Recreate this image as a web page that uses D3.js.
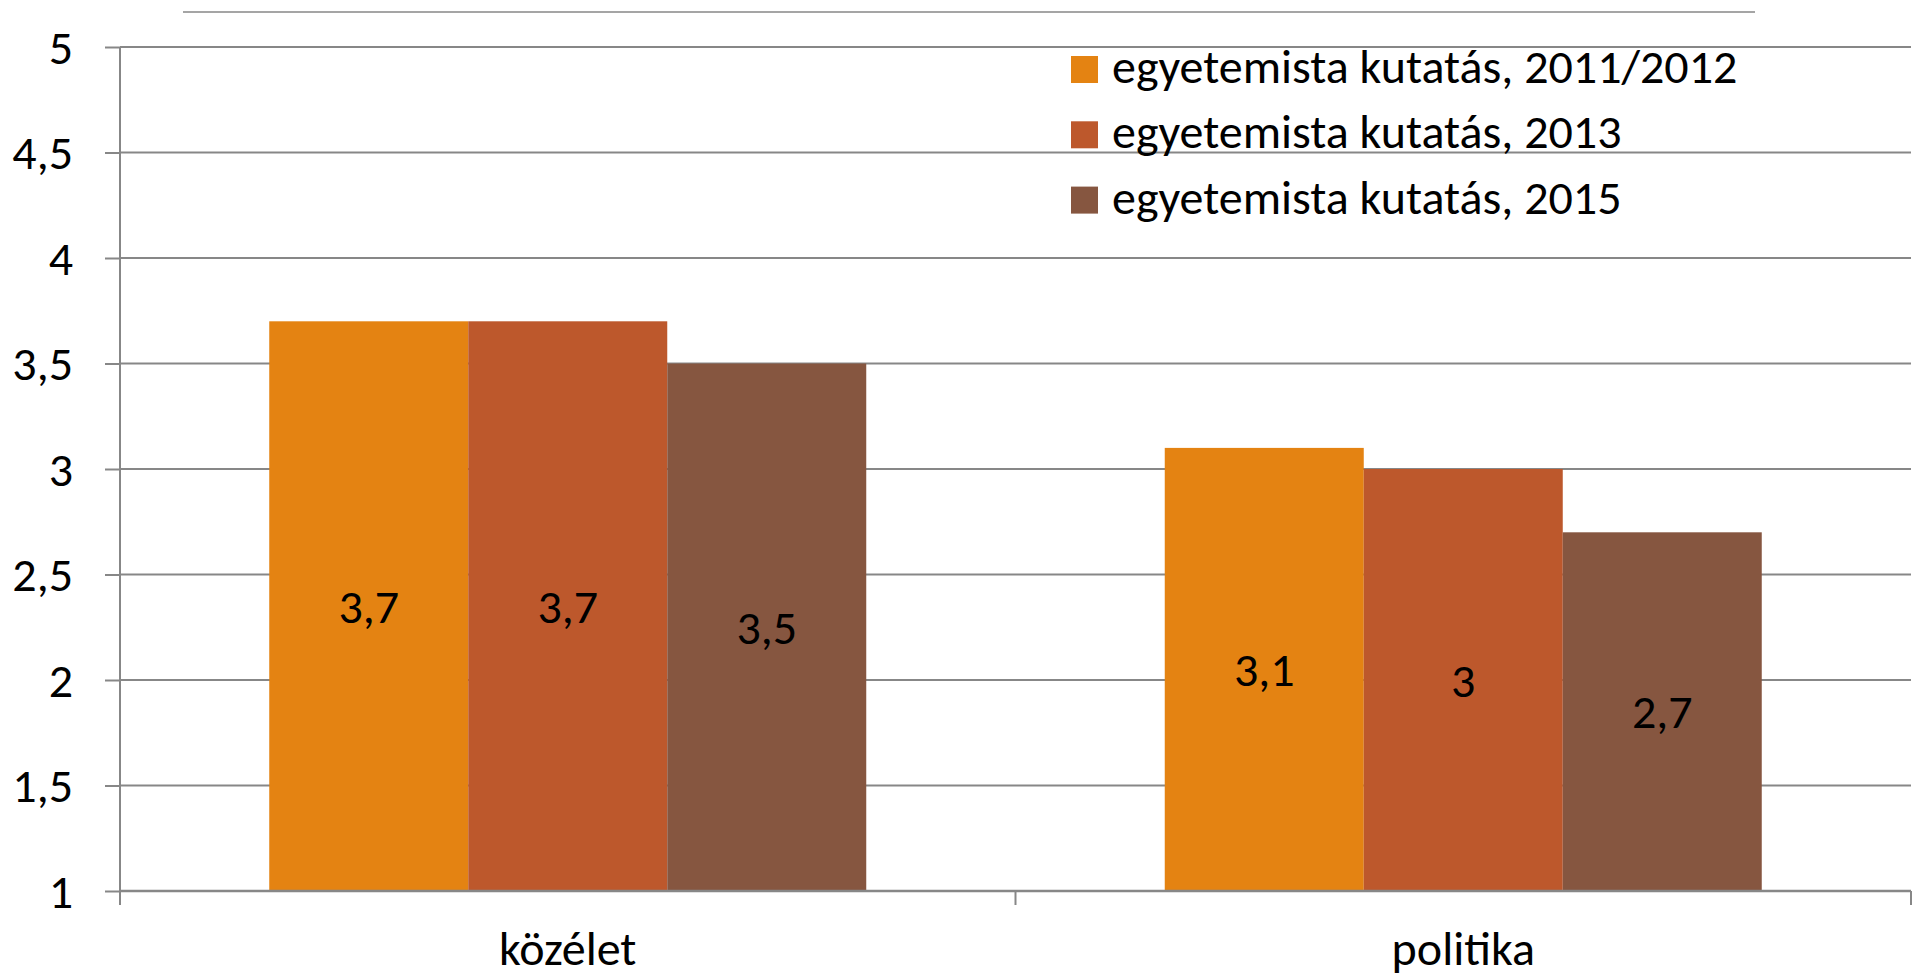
<!DOCTYPE html>
<html lang="hu">
<head>
<meta charset="UTF-8">
<script src="https://d3js.org/d3.v7.min.js"></script>
<style>
    body { margin: 0; background: #fff; }
    text { font-family: Carlito, Calibri, 'Open Sans', sans-serif; fill: #000; }
</style>
</head>
<body>
<svg id="canvas"></svg>
<script>

let categories = ['közélet', 'politika']
let seriesNames = ['egyetemista kutatás, 2011/2012', 'egyetemista kutatás, 2013', 'egyetemista kutatás, 2015']
let seriesColors = ['#E48312', '#BD582C', '#865640']
let values2011 = [3.7, 3.1]
let values2013 = [3.7, 3.0]
let values2015 = [3.5, 2.7]
let yTicks = [1, 1.5, 2, 2.5, 3, 3.5, 4, 4.5, 5]

let width = 1918
let height = 973
let plotLeft = 120
let plotRight = 1911
let plotTop = 47
let plotBottom = 891
let gray = '#878787'

let allValues = [values2011, values2013, values2015]
let rows = []
categories.forEach((c, i) => {
    seriesNames.forEach((s, j) => {
        rows.push({ cat: c, series: s, value: allValues[j][i], color: seriesColors[j] })
    })
})

let fmt = (v) => String(v).replace('.', ',')

let canvas = d3.select('#canvas')
    .attr('width', width)
    .attr('height', height)

let xScale = d3.scaleBand()
    .domain(categories)
    .range([plotLeft, plotRight])

let xInner = d3.scaleBand()
    .domain(seriesNames)
    .range([0, xScale.bandwidth()])
    .paddingOuter(0.75)

let yScale = d3.scaleLinear()
    .domain([1, 5])
    .range([plotBottom, plotTop])

// line above the plot
canvas.append('line')
    .attr('x1', 183).attr('x2', 1755)
    .attr('y1', 12).attr('y2', 12)
    .attr('stroke', gray).attr('stroke-width', 1.5)

// gridlines
canvas.append('g')
    .selectAll('line')
    .data(yTicks.filter(t => t > 1))
    .enter()
    .append('line')
    .attr('x1', plotLeft).attr('x2', plotRight)
    .attr('y1', d => yScale(d)).attr('y2', d => yScale(d))
    .attr('stroke', gray).attr('stroke-width', 2)

// bars
canvas.append('g')
    .selectAll('rect')
    .data(rows)
    .enter()
    .append('rect')
    .attr('x', d => xScale(d.cat) + xInner(d.series))
    .attr('width', xInner.bandwidth())
    .attr('y', d => yScale(d.value))
    .attr('height', d => plotBottom - yScale(d.value))
    .attr('fill', d => d.color)

// value labels
canvas.append('g')
    .selectAll('text')
    .data(rows)
    .enter()
    .append('text')
    .attr('x', d => xScale(d.cat) + xInner(d.series) + xInner.bandwidth() / 2)
    .attr('y', d => (yScale(d.value) + plotBottom) / 2)
    .attr('dy', '0.35em')
    .attr('text-anchor', 'middle')
    .style('font-size', '48px')
    .text(d => fmt(d.value))

// y axis
let yAxis = d3.axisLeft(yScale)
    .tickValues(yTicks)
    .tickSize(15)
    .tickPadding(32)
    .tickFormat(fmt)

let yG = canvas.append('g')
    .attr('transform', 'translate(' + plotLeft + ',0)')
    .call(yAxis)
yG.select('.domain').remove()
yG.selectAll('.tick line').attr('stroke', gray).attr('stroke-width', 2)
yG.selectAll('.tick text')
    .attr('font-family', null)
    .attr('font-size', null)
    .style('font-size', '48px')
    .attr('dy', '0.34em')
canvas.append('line')
    .attr('x1', plotLeft).attr('x2', plotLeft)
    .attr('y1', plotTop).attr('y2', 905)
    .attr('stroke', gray).attr('stroke-width', 2)

// x axis
canvas.append('line')
    .attr('x1', plotLeft).attr('x2', plotRight)
    .attr('y1', plotBottom).attr('y2', plotBottom)
    .attr('stroke', gray).attr('stroke-width', 2.5)

let xTicks = categories.map(c => xScale(c)).concat([plotRight])
canvas.append('g')
    .selectAll('line')
    .data(xTicks)
    .enter()
    .append('line')
    .attr('x1', d => d).attr('x2', d => d)
    .attr('y1', plotBottom).attr('y2', 905)
    .attr('stroke', gray).attr('stroke-width', 2)

canvas.append('g')
    .selectAll('text')
    .data(categories)
    .enter()
    .append('text')
    .attr('x', d => xScale(d) + xScale.bandwidth() / 2)
    .attr('y', 965)
    .attr('text-anchor', 'middle')
    .style('font-size', '48px')
    .text(d => d)

// legend
let legend = canvas.append('g')
    .attr('transform', 'translate(1071,56)')
let item = legend.selectAll('g')
    .data(seriesNames)
    .enter()
    .append('g')
    .attr('transform', (d, i) => 'translate(0,' + (i * 65.3) + ')')
item.append('rect')
    .attr('width', 27).attr('height', 27)
    .attr('fill', (d, i) => seriesColors[i])
item.append('text')
    .attr('x', 41)
    .attr('y', 27)
    .style('font-size', '48px')
    .text(d => d)

</script>
</body>
</html>
